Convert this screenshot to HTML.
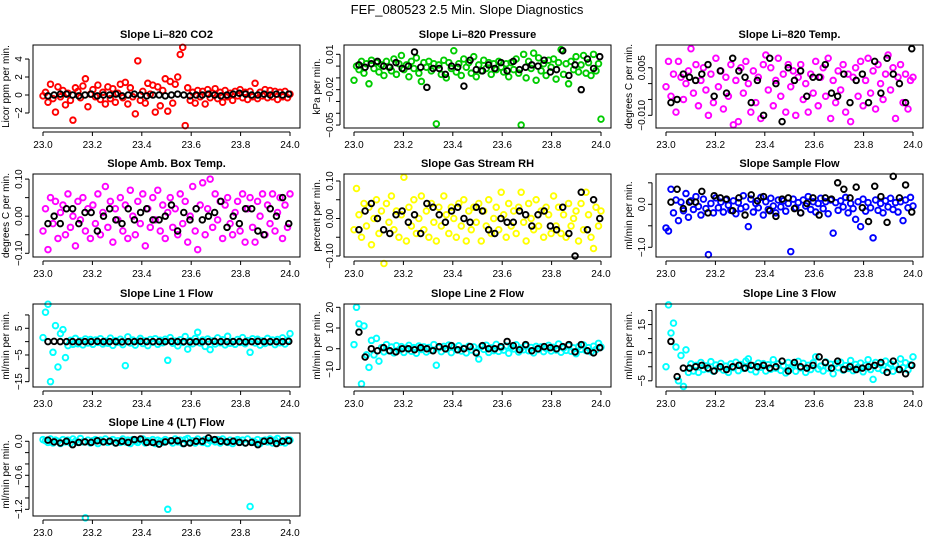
<!DOCTYPE html>
<html><head><meta charset="utf-8">
<style>
html,body{margin:0;padding:0;background:#fff;}
svg{display:block;font-family:"Liberation Sans",Arial,sans-serif;}
</style></head>
<body>
<svg id="chart" width="936" height="540" viewBox="0 0 936 540" xmlns="http://www.w3.org/2000/svg">
<rect width="936" height="540" fill="#fff"/>
<text x="467" y="14" text-anchor="middle" font-size="13" fill="#000">FEF_080523  2.5 Min. Slope Diagnostics</text>
</svg>
<script>
const xTicks = [23.0, 23.2, 23.4, 23.6, 23.8, 24.0];
const xTickLabels = ["23.0","23.2","23.4","23.6","23.8","24.0"];

const co2 = [-0.1,0.3,-0.8,1.2,-0.4,-1.9,0.9,-0.2,0.5,-1.1,0.2,-0.6,-2.8,0.8,0.4,-0.3,1.0,1.8,-1.3,0.1,0.6,-0.2,1.1,-0.5,0.3,-1.0,0.9,-0.4,0.7,-0.8,0.2,1.2,-0.3,1.4,-1.0,0.8,-0.2,-2.1,3.8,-0.6,0.4,-0.9,1.3,0.1,1.1,-1.9,0.9,-1.2,0.5,1.8,-1.8,1.5,-0.9,1.2,2.0,4.5,5.3,-3.4,0.8,-0.6,0.3,-0.9,0.5,-0.2,0.4,-1.0,0.6,-0.3,0.2,0.7,-0.4,0.3,-0.8,0.5,-0.2,0.2,-0.6,0.4,-0.1,0.6,-0.3,0.3,-0.5,0.4,-0.2,1.3,-0.4,0.3,-0.1,0.6,-0.3,0.5,-0.2,0.4,-0.5,0.3,-0.2,0.4,-0.3,0.1];
const co2Black = [-0.1,0.0,0.1,0.1,0.0,-0.1,0.0,0.1,-0.1,0.0,0.0,0.1,-0.1,0.0,0.1,0.0,-0.1,0.0,0.0,-0.1,0.0,0.1,0.0,-0.1,0.0,0.0,0.1,0.0,-0.1,0.0,0.1,0.2,0.1,0.0,0.0,0.1,0.0,0.1,0.0,0.1];

const pres = [-0.012,0.000,-0.003,0.004,-0.006,0.002,-0.015,0.005,-0.002,0.003,-0.005,0.001,-0.008,0.004,-0.001,-0.004,0.006,-0.007,0.002,0.009,-0.003,0.001,-0.009,0.004,-0.002,0.007,-0.006,-0.013,0.003,-0.001,0.004,-0.004,0.002,-0.049,0.001,-0.007,0.005,-0.010,0.003,-0.002,0.013,-0.005,0.002,-0.008,0.006,-0.001,0.003,-0.006,0.008,-0.009,0.001,-0.004,0.005,-0.002,0.003,-0.007,0.002,-0.003,0.004,-0.001,-0.005,0.002,-0.009,0.003,-0.003,0.006,-0.006,-0.050,0.010,-0.010,0.004,-0.002,0.011,-0.012,0.007,-0.004,0.002,-0.008,0.005,-0.001,0.006,-0.011,0.003,0.014,-0.007,0.002,-0.015,0.004,-0.003,0.008,-0.005,0.001,0.009,-0.006,0.003,-0.008,0.010,-0.004,0.002,-0.045];
const presBlack = [0.001,-0.001,0.002,0.004,0.000,-0.001,0.003,-0.002,0.000,0.012,-0.001,-0.018,-0.002,-0.002,-0.007,0.000,-0.001,-0.017,0.005,-0.003,-0.004,0.001,-0.002,0.003,-0.004,0.004,-0.003,-0.001,0.001,0.000,0.005,-0.005,-0.003,0.013,-0.008,0.001,-0.020,0.006,-0.002,0.008];

const temp = [-0.001,0.007,-0.004,0.003,-0.009,0.007,0.002,-0.005,0.000,0.004,0.011,-0.003,0.006,-0.007,0.001,0.005,-0.002,-0.010,0.003,-0.006,0.008,-0.001,0.004,-0.008,0.002,-0.004,0.006,-0.013,0.001,-0.012,0.005,-0.003,0.007,0.000,-0.009,0.004,-0.006,0.002,-0.011,0.006,0.009,-0.002,0.005,-0.007,0.001,0.008,-0.004,0.003,-0.009,0.006,-0.001,0.004,-0.010,0.002,0.006,-0.005,0.000,-0.009,0.003,-0.003,0.007,-0.007,0.002,0.005,-0.004,0.008,-0.011,0.001,-0.006,0.004,-0.002,0.006,-0.009,0.003,-0.012,0.002,0.005,-0.004,0.007,-0.007,0.001,0.008,-0.003,0.004,-0.008,0.006,0.000,-0.005,0.003,0.009,-0.002,0.005,-0.011,0.002,0.006,-0.006,0.003,-0.008,0.001,0.002];
const tempBlack = [-0.006,-0.005,0.003,0.002,0.001,0.003,0.006,-0.004,0.004,-0.003,0.008,0.004,0.002,-0.006,0.001,-0.010,0.008,0.000,-0.012,0.005,0.001,0.004,-0.004,0.002,0.002,0.006,-0.003,-0.004,0.003,-0.006,0.001,0.003,-0.006,0.007,-0.003,0.008,0.003,0.000,-0.006,0.011];

const amb = [-0.04,0.02,-0.09,0.05,-0.02,0.04,-0.06,0.01,0.03,-0.05,0.06,-0.03,0.00,-0.08,0.04,-0.01,0.05,-0.04,0.02,-0.06,0.03,-0.02,0.06,-0.05,0.01,0.08,-0.03,0.04,-0.07,0.02,-0.01,0.05,-0.04,0.03,-0.06,0.07,0.00,-0.05,0.04,-0.02,0.06,-0.08,0.02,-0.03,0.05,-0.01,0.07,-0.04,0.03,-0.06,0.01,0.05,-0.03,0.02,-0.05,0.06,-0.02,0.04,-0.07,0.00,0.08,-0.04,-0.09,0.03,0.09,-0.05,0.02,0.10,-0.03,0.06,-0.01,0.04,-0.06,0.03,0.05,-0.02,-0.05,0.01,0.04,-0.04,0.06,-0.07,0.02,0.05,-0.03,-0.07,0.04,0.00,0.06,-0.05,0.03,-0.02,0.06,-0.04,0.01,0.05,-0.06,0.03,-0.03,0.06];
const ambBlack = [-0.02,0.00,-0.02,0.02,0.02,-0.02,0.01,0.01,-0.04,0.00,0.02,-0.01,-0.02,0.02,-0.01,0.01,0.02,-0.01,-0.01,0.00,0.03,-0.04,0.01,-0.01,0.02,-0.01,0.00,0.01,0.04,-0.03,0.00,-0.02,0.02,0.02,-0.04,-0.05,0.02,0.00,0.05,-0.02];

const rh = [-0.03,0.08,0.01,-0.05,0.04,-0.02,0.03,-0.07,0.00,0.05,-0.04,0.02,-0.12,0.04,-0.01,0.06,-0.03,0.02,-0.05,0.01,0.11,-0.06,0.03,-0.02,0.05,-0.04,0.00,0.06,-0.03,0.02,-0.05,0.04,-0.01,-0.06,0.03,-0.02,0.06,0.01,-0.04,0.03,0.00,-0.05,0.04,-0.02,0.05,-0.06,0.02,-0.03,0.03,-0.01,0.04,-0.06,0.02,-0.02,0.05,-0.04,0.00,0.03,-0.03,0.07,0.01,-0.05,0.04,-0.02,0.02,-0.04,0.03,0.07,-0.01,-0.06,0.04,0.00,-0.03,0.05,-0.02,0.02,-0.05,0.03,0.01,-0.04,0.06,-0.02,0.03,-0.04,0.01,-0.05,0.04,-0.02,0.00,0.02,-0.06,0.04,-0.03,0.07,0.01,-0.05,-0.08,0.03,-0.02,0.02];
const rhBlack = [-0.03,0.02,0.04,0.00,-0.03,-0.04,0.01,0.02,-0.01,0.01,-0.04,0.04,0.03,0.01,-0.01,0.02,0.03,0.00,-0.01,0.03,0.02,-0.03,-0.04,0.00,-0.01,-0.01,0.02,0.01,-0.02,0.01,0.02,-0.02,-0.03,0.03,-0.04,-0.10,0.07,-0.03,0.05,0.00];

const samp = [-0.55,-0.62,0.35,-0.20,0.10,-0.38,0.05,-0.15,0.25,-0.30,0.08,-0.12,0.18,-0.05,-0.25,0.12,-0.10,-1.17,0.02,-0.20,0.15,-0.08,0.05,-0.18,0.10,-0.02,-0.14,0.08,-0.22,0.04,-0.10,0.20,-0.06,-0.52,0.12,-0.18,0.02,-0.08,0.16,-0.25,0.06,-0.12,0.14,-0.04,-0.20,0.10,-0.06,0.08,-0.16,0.02,-1.10,0.12,-0.08,0.04,-0.20,0.10,-0.04,0.18,-0.12,0.06,-0.18,0.02,0.14,-0.10,0.06,-0.22,0.10,-0.67,0.04,-0.14,0.08,-0.06,0.16,-0.20,0.02,-0.10,-0.35,0.06,-0.52,0.12,-0.16,0.04,-0.08,-0.78,0.10,-0.14,0.02,-0.20,0.08,-0.06,0.14,-0.12,0.04,-0.18,0.06,-0.38,0.10,-0.08,0.16,-0.04];
const sampBlack = [0.05,0.35,-0.10,0.05,0.05,0.30,-0.20,0.20,0.15,0.12,-0.15,0.15,-0.25,0.22,0.08,0.18,-0.15,-0.28,0.12,0.15,-0.10,-0.20,0.02,0.15,-0.25,0.15,0.12,0.50,0.35,0.15,0.40,-0.08,-0.40,0.42,0.18,-0.42,0.65,0.15,0.45,-0.18];

const line1 = [1.5,11,14,-15,-4,6,-9.5,3,4.5,-6,-1.5,0.5,-1,1.2,-0.8,0.3,-1.2,1,-0.5,0.8,-1,0.6,-0.3,1.1,-0.9,0.2,-0.6,1.3,-1.4,0.4,-0.2,0.9,-1.1,-9,1.8,-0.5,0.6,-1.3,0.2,1.2,-0.7,0.3,-1.5,0.8,-0.2,1.1,-1,0.5,-0.4,0.9,-7,1.5,-0.6,0.2,-1.6,0.7,-0.3,1.9,-2.8,0.4,-0.8,1.2,3.5,-0.5,0.6,-1.8,1.0,-3,0.3,-0.9,1.4,-0.4,0.7,-1.2,2.0,-0.6,0.1,-1.0,0.8,-0.3,1.5,-0.8,0.4,-4,1.1,-0.5,0.9,-1.3,0.3,-0.7,1.2,-0.2,0.6,-1.1,0.8,-0.4,1.4,-0.9,0.5,3];
const line1Black = [0,0.1,0,0,0,-0.1,0,0,0.1,0,0,0,-0.1,0,0,0.1,0,0,0,0,0.1,0,0,-0.1,0,0,0,0.1,0,0,0,0,-0.1,0,0.1,0,0,0,0,0.1];

const line2 = [2,20,12,-17,11,-3,-9,4,-3,5,-6,0.5,-1.5,2,-1,0.8,-2,1.5,-0.5,1,-1.8,0.3,1.6,-1.2,0.5,-2.2,1.3,-0.4,0.9,-1.6,0.6,-0.8,2,-8,0.4,-1.4,1.1,-0.2,1.8,-1.9,0.7,-0.5,1.4,-1.1,0.2,-2,1.2,-0.6,0.9,-1.5,-5,1.0,-0.3,1.7,-1.8,0.4,-0.9,2.1,-1.3,0.5,-0.7,1.3,-2.2,0.8,-0.1,1.9,-1.6,0.3,-0.5,1.4,-1.0,0.6,-2.0,1.1,-0.4,0.9,-1.4,0.2,1.6,-1.1,0.7,-0.6,2.3,-1.7,0.3,-0.8,1.5,-1.2,0.4,-2.4,1.0,-0.3,1.8,-0.9,0.5,-1.5,1.2,-0.4,2.6,0.8];
const line2Black = [8,-4,0,-1,0.5,-1,-1.5,0,0,-0.5,0.5,0,-1,1,0,1.5,-0.5,0,1,-2,1.5,0,0,1,3.5,1.5,-0.5,2,-1,0,1,0.5,0,1,2,-1.5,2,-1,-2,0.5];

const line3 = [0,22,12,15.5,7,-5,4,-7,6,-2,1,-1.5,0.5,-2,1.5,-1,0.3,-0.8,1.8,-1.6,0.6,-0.4,1.2,-1.2,0.2,-2,1,-0.3,1.6,-1.4,0.8,-0.6,2,2.8,-1,0.4,-1.8,1.3,-0.2,1.1,-1.5,0.7,-0.9,2.5,-0.5,1,-1.3,0.3,-2.2,1.5,-0.7,0.6,-1.6,1.9,-0.4,1.2,-2,0.5,-1,1.4,3.5,-0.8,0.2,-1.5,1.7,-0.5,0.9,-2.5,1.1,-0.3,1.6,-1.2,0.4,-0.6,2.2,-1.4,0.8,-0.2,1.3,-1.8,0.5,2.5,-1,-4.5,1.5,-0.6,0.9,-1.3,2,-0.4,1,-1.6,0.6,-0.9,2.8,-0.3,1.4,-1.1,0.7,3.5];
const line3Black = [9,-3.5,-0.5,-0.5,0,0.5,-0.5,-1.5,0,-1,0,0.5,-0.5,0.5,0,0.5,-0.5,0,2,-1.5,1.5,0,-0.5,0.5,3.5,1.5,-0.5,2,-1,0,-1,-0.5,0,0.5,1.5,-2,2,-1,-2.5,0.5];

const line4 = [0.03,0.01,-0.02,0.04,-0.03,0.02,0.00,-0.04,0.03,-0.01,0.02,-0.03,0.04,0.00,-0.02,0.05,-0.01,-1.35,0.02,-0.03,0.01,0.03,-0.04,0.02,-0.01,0.04,-0.02,0.00,0.03,-0.03,0.01,-0.02,0.04,-0.01,0.02,-0.04,0.03,0.00,-0.02,0.02,0.04,-0.03,0.01,-0.01,0.03,-0.04,0.02,0.00,-0.02,0.03,-1.20,0.01,-0.03,0.04,-0.01,0.02,-0.04,0.03,0.05,-0.02,0.01,-0.03,0.04,0.00,-0.02,0.03,-0.04,0.01,0.02,-0.01,0.03,-0.03,0.04,0.00,-0.02,0.02,-0.04,0.01,0.03,-0.01,0.02,-0.03,0.04,-1.15,0.00,-0.02,0.03,-0.04,0.01,0.02,-0.01,0.04,-0.03,0.02,0.05,-0.02,0.01,-0.03,0.03,0.02];
const line4Black = [0.02,-0.01,-0.03,0.00,-0.06,-0.02,-0.01,-0.02,0.01,-0.01,0.00,-0.03,0.00,-0.02,0.03,0.04,-0.02,-0.02,-0.05,-0.01,0.01,0.01,-0.04,-0.03,0.00,0.00,0.06,0.03,0.00,-0.01,0.00,-0.02,-0.03,-0.02,-0.06,0.00,0.01,-0.04,0.00,0.01];

const panels = [
 {name:"co2", title:"Slope Li\u2013820 CO2", ylab:"Licor ppm per min.", col:0,row:0, lo:-3.67, hi:5.56, color:"#ff0000", data:co2, black:co2Black, ticks:[-2,0,2,4], labels:["\u22122","0","2","4"]},
 {name:"pressure", title:"Slope Li\u2013820 Pressure", ylab:"kPa per min.", col:1,row:0, lo:-0.0525, hi:0.0179, color:"#00cc00", data:pres, black:presBlack, ticks:[-0.05,-0.04,-0.03,-0.02,-0.01,0,0.01], labels:["\u22120.05","","","\u22120.02","","","0.01"]},
 {name:"temp", title:"Slope Li\u2013820 Temp.", ylab:"degrees C per min.", col:2,row:0, lo:-0.0140, hi:0.01217, color:"#ff00ff", data:temp, black:tempBlack, ticks:[-0.010,-0.005,0,0.005], labels:["\u22120.010","","","0.005"]},
 {name:"amb-box-temp", title:"Slope Amb. Box Temp.", ylab:"degrees C per min.", col:0,row:1, lo:-0.110, hi:0.1137, color:"#ff00ff", data:amb, black:ambBlack, ticks:[-0.10,-0.05,0,0.05,0.10], labels:["\u22120.10","","0.00","","0.10"]},
 {name:"gas-stream-rh", title:"Slope Gas Stream RH", ylab:"percent per min.", col:1,row:1, lo:-0.1027, hi:0.1187, color:"#ffff00", data:rh, black:rhBlack, ticks:[-0.10,-0.05,0,0.05,0.10], labels:["\u22120.10","","0.00","","0.10"]},
 {name:"sample-flow", title:"Slope Sample Flow", ylab:"ml/min per min.", col:2,row:1, lo:-1.226, hi:0.705, color:"#0000ff", data:samp, black:sampBlack, ticks:[-1.0,-0.5,0,0.5], labels:["\u22121.0","","0.0",""]},
 {name:"line1-flow", title:"Slope Line 1 Flow", ylab:"ml/min per min.", col:0,row:2, lo:-17.0, hi:14.1, color:"#00ffff", data:line1, black:line1Black, ticks:[-15,-10,-5,0,5,10], labels:["\u221215","","\u22125","","5",""]},
 {name:"line2-flow", title:"Slope Line 2 Flow", ylab:"ml/min per min.", col:1,row:2, lo:-18.5, hi:21.6, color:"#00ffff", data:line2, black:line2Black, ticks:[-10,0,10,20], labels:["\u221210","0","10","20"]},
 {name:"line3-flow", title:"Slope Line 3 Flow", ylab:"ml/min per min.", col:2,row:2, lo:-7.2, hi:22.3, color:"#00ffff", data:line3, black:line3Black, ticks:[-5,0,5,10,15,20], labels:["\u22125","","5","","15",""]},
 {name:"line4-flow", title:"Slope Line 4 (LT) Flow", ylab:"ml/min per min.", col:0,row:3, lo:-1.318, hi:0.146, color:"#00ffff", data:line4, black:line4Black, ticks:[-1.2,-1.0,-0.8,-0.6,-0.4,-0.2,0], labels:["\u22121.2","","","\u22120.6","","","0.0"]}
];

const NS="http://www.w3.org/2000/svg";
const svg=document.getElementById("chart");
const LEFTS=[33,344,656], TOPS=[45,174,304,433], W=267, H=83;
function mk(tag, attrs, parent){const e=document.createElementNS(NS,tag);for(const k in attrs)e.setAttribute(k,attrs[k]);parent.appendChild(e);return e;}

panels.forEach(p=>{
  const L=LEFTS[p.col], T=TOPS[p.row], B=T+H, R=L+W;
  const xs=v=>L+10+(v-23)*247;
  const ys=v=>B-(v-p.lo)/(p.hi-p.lo)*H;
  const g=mk("g",{},svg);
  
  
  const t=mk("text",{x:L+W/2,y:T-7,"text-anchor":"middle","font-size":"11","font-weight":"bold"},g);
  t.textContent=p.title;
  
  
  const yl=mk("text",{x:0,y:0,"text-anchor":"middle","font-size":"10",transform:`translate(${L-24},${T+H/2}) rotate(-90)`},g);
  yl.textContent=p.ylab;
  
  
  const pg=mk("g",{fill:"none","stroke-width":"1.9"},g);
  
  
  p.data.forEach((v,i)=>{
    const c=mk("circle",{cx:xs(23+i/(p.data.length-1)),cy:ys(v),r:2.8,stroke:p.color},pg);
    
    
  });
  const bg=mk("g",{fill:"none","stroke-width":"1.9"},g);
  
  
  p.black.forEach((v,i)=>{
    const c=mk("circle",{cx:xs(23.02+i/(p.black.length-1)*0.975),cy:ys(v),r:2.8,stroke:"#000"},bg);
    
    
  });
  const box=mk("rect",{x:L,y:T,width:W,height:H,fill:"none",stroke:"#000","stroke-width":"1"},g);
  
  
  const xa=mk("g",{},g);
  
  
  mk("line",{x1:xs(23),x2:xs(24),y1:B+4,y2:B+4,stroke:"#000"},xa);
  xTicks.forEach((v,i)=>{
    mk("line",{x1:xs(v),x2:xs(v),y1:B+4,y2:B+8,stroke:"#000"},xa);
    const tl=mk("text",{x:xs(v),y:B+20,"text-anchor":"middle","font-size":"10"},xa);
    tl.textContent=xTickLabels[i];
    
    
  });
  const ya=mk("g",{},g);
  
  
  const t0=ys(p.ticks[0]), t1=ys(p.ticks[p.ticks.length-1]);
  mk("line",{x1:L-4,x2:L-4,y1:t0,y2:t1,stroke:"#000"},ya);
  p.ticks.forEach((v,i)=>{
    const y=ys(v);
    mk("line",{x1:L-8,x2:L-4,y1:y,y2:y,stroke:"#000"},ya);
    if(p.labels[i]){
      const tl=mk("text",{x:0,y:0,"text-anchor":"middle","font-size":"10",transform:`translate(${L-11},${y}) rotate(-90)`},ya);
      tl.textContent=p.labels[i];
      
      
    }
  });
});
</script>
</body></html>
